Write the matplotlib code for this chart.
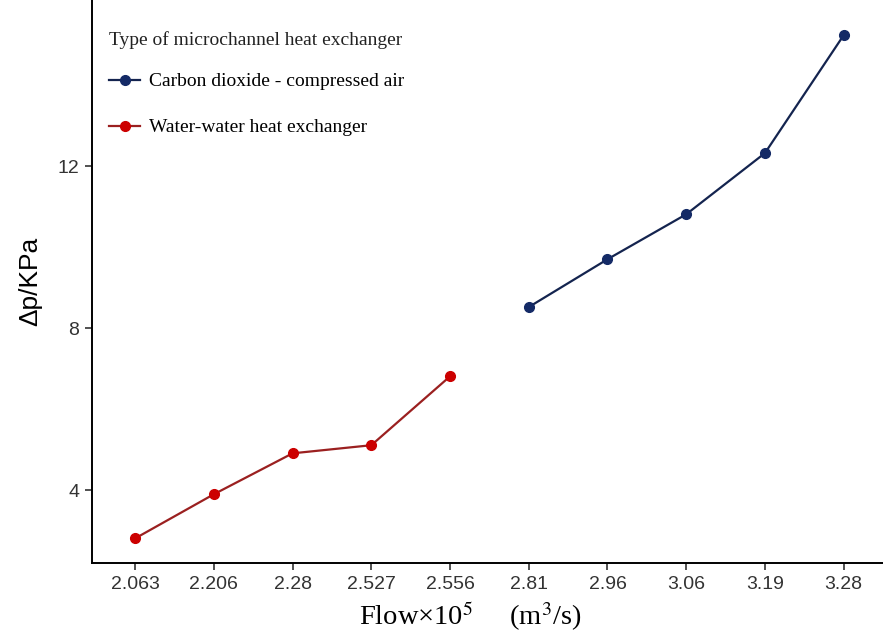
import matplotlib.pyplot as plt

# category labels on the x axis (evenly spaced)
flowLabels = ['2.063', '2.206', '2.28', '2.527', '2.556',
              '2.81', '2.96', '3.06', '3.19', '3.28']

waterFlow = ['2.063', '2.206', '2.28', '2.527', '2.556']
waterDp = [2.81, 3.90, 4.91, 5.11, 6.81]

co2Flow = ['2.81', '2.96', '3.06', '3.19', '3.28']
co2Dp = [8.52, 9.70, 10.81, 12.32, 15.23]

plt.rcParams['mathtext.fontset'] = 'stix'

fig = plt.figure(figsize=(8.83, 6.32), dpi=100)
ax = fig.add_axes([0.104, 0.109, 0.896, 0.891])

pos = {lab: i + 1 for i, lab in enumerate(flowLabels)}

ax.plot([pos[f] for f in co2Flow], co2Dp, color='#14244f', linewidth=1.6,
        marker='o', markersize=7, markerfacecolor='#142a66', markeredgecolor='#142a66',
        label='Carbon dioxide - compressed air')
ax.plot([pos[f] for f in waterFlow], waterDp, color='#9b2020', linewidth=1.6,
        marker='o', markersize=7, markerfacecolor='#cc0000', markeredgecolor='#cc0000',
        label='Water-water heat exchanger')

ax.set_xlim(0.45, 10.5)
ax.set_ylim(2.2, 16.1)
ax.set_xticks(range(1, len(flowLabels) + 1))
ax.set_xticklabels(flowLabels)
ax.set_yticks([4, 8, 12])

for lab in ax.get_xticklabels() + ax.get_yticklabels():
    lab.set_fontfamily('Liberation Sans')
    lab.set_fontsize(14)
    lab.set_color('#333333')
ax.tick_params(direction='out', length=5, width=1.2, color='#333333', pad=4)

ax.spines['top'].set_visible(False)
ax.spines['right'].set_visible(False)
ax.spines['left'].set_linewidth(1.4)
ax.spines['bottom'].set_linewidth(1.4)

ax.set_ylabel('Δp/KPa', fontfamily='Liberation Sans', fontsize=19, labelpad=11)
ax.set_xlabel('Flow×10$^5$     (m$^3$/s)', fontfamily='Liberation Serif', fontsize=20.5, labelpad=0)
ax.xaxis.set_label_coords(0.478, -0.064, transform=ax.transAxes)
ax.xaxis.label.set_va('top')

leg = ax.legend(loc='upper left', bbox_to_anchor=(0.0, 0.975), frameon=False,
                title='Type of microchannel heat exchanger',
                prop={'family': 'Liberation Serif', 'size': 14},
                title_fontproperties={'family': 'Liberation Serif', 'size': 14},
                labelspacing=1.46, handlelength=1.6, handletextpad=0.45,
                borderaxespad=0.5)
leg._legend_box.align = 'left'
leg._legend_box.sep = 16.8  # tighter gap between title and first entry
leg.get_title().set_color('#222222')

fig.savefig('out.png', dpi=100)
